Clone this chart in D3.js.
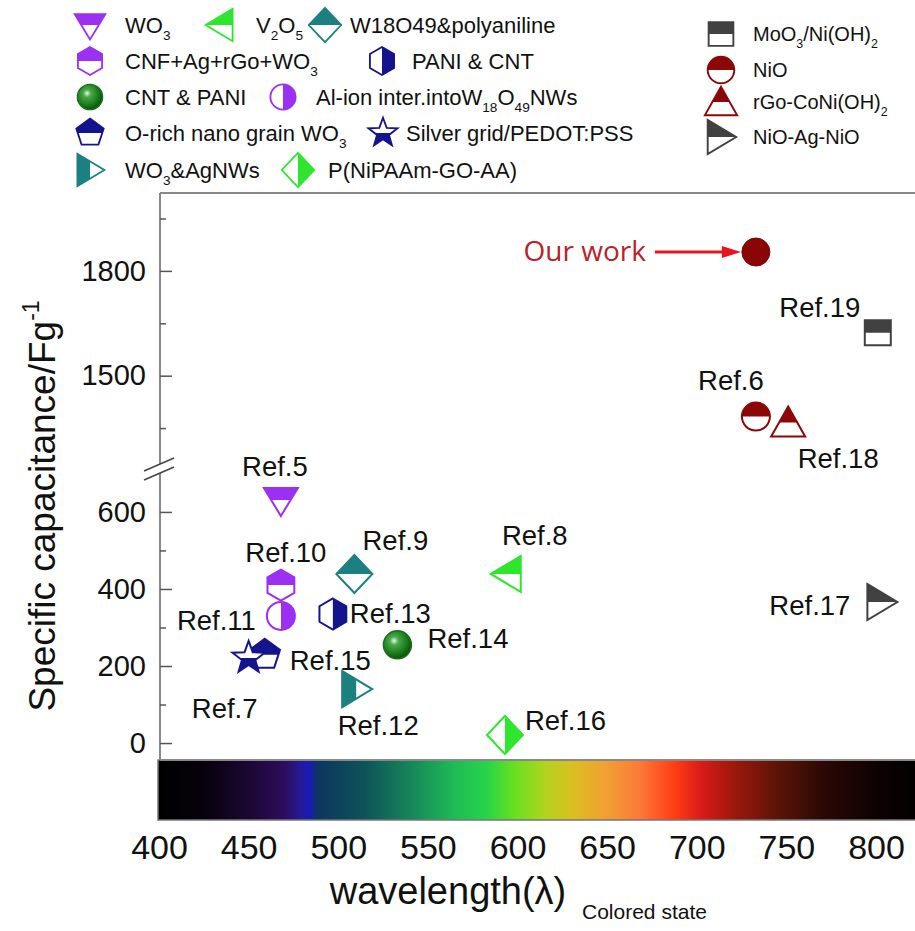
<!DOCTYPE html>
<html><head><meta charset="utf-8">
<script src="https://cdn.jsdelivr.net/npm/d3@7"></script>
<style>body{margin:0;background:#fff} svg text{font-family:"Liberation Sans",Arial,sans-serif;fill:#111}</style>
</head><body><svg id="c" width="915" height="931"></svg>
<script>
// ---------------- data ----------------
const materials = ["WO{3}", "V{2}O{5}", "W18O49&polyaniline", "CNF+Ag+rGo+WO{3}", "PANI & CNT",
  "CNT & PANI", "Al-ion inter.intoW{18}O{49}NWs", "O-rich nano grain WO{3}", "Silver grid/PEDOT:PSS",
  "WO{3}&AgNWs", "P(NiPAAm-GO-AA)", "MoO{3}/Ni(OH){2}", "NiO", "rGo-CoNi(OH){2}", "NiO-Ag-NiO"];
const refLabels = ["Ref.5", "Ref.8", "Ref.9", "Ref.10", "Ref.13", "Ref.14", "Ref.11", "Ref.15", "Ref.7",
  "Ref.12", "Ref.16", "Ref.19", "Ref.6", "Ref.18", "Ref.17"];
const wavelengths = [468, 594, 509, 468, 497, 533, 468, 459, 450, 510, 593, 801, 733, 751, 803];
const capacitances = [631, 439, 439, 410, 335, 255, 330, 229, 221, 140, 21, 1623, 1383, 1366, 366];
const ourWorkLabel = ["Our work"];
const ourWavelength = [733];
const ourCapacitance = [1854];
const xTicks = [400, 450, 500, 550, 600, 650, 700, 750, 800];
const yTicksUpper = [1500, 1800];
const yMinorUpper = [1350, 1650, 1950];
const yTicksLower = [0, 200, 400, 600];
const yMinorLower = [100, 300, 500];
const spectrumStops = [[400,"#000000"],[425,"#06010c"],[450,"#1b0732"],[470,"#2c0c5c"],[479,"#261a98"],[484,"#1a1ab8"],[488,"#0c3560"],[515,"#0e5358"],[540,"#16855a"],[565,"#1fbb55"],[583,"#28d44a"],[598,"#66e020"],[615,"#b0d420"],[630,"#d8c020"],[648,"#f0a232"],[668,"#fb7a38"],[688,"#ff3c14"],[703,"#d81a18"],[720,"#a0180c"],[745,"#5c1408"],[770,"#2c0804"],[800,"#0e0202"],[830,"#000000"]];

// ---------------- styles / layout ----------------
const PURPLE="#9b30f2", GREEN="#2ee62e", TEAL="#1d8080", NAVY="#14148c", DKGREEN="#1b7d1b", DKRED="#8c0808", GRAY="#414141";
const markerStyles = [
  {shape:"triDown", half:"top", color:PURPLE},
  {shape:"triLeft", half:"top", color:GREEN},
  {shape:"diamond", half:"top", color:TEAL},
  {shape:"hexagon", half:"top", color:PURPLE},
  {shape:"hexagon", half:"right", color:NAVY},
  {shape:"sphere", half:"full", color:DKGREEN},
  {shape:"circle", half:"right", color:PURPLE},
  {shape:"pentagon", half:"top", color:NAVY},
  {shape:"star", half:"bottom", color:NAVY},
  {shape:"triRight", half:"left", color:TEAL},
  {shape:"diamond", half:"right", color:GREEN},
  {shape:"square", half:"top", color:GRAY},
  {shape:"circle", half:"top", color:DKRED},
  {shape:"triUp", half:"top", color:DKRED},
  {shape:"triRight", half:"top", color:GRAY}
];
// label placement relative to marker: [dx, dy, anchor]
const labelPlacement = [[-6,-24,"middle"],[28,-29,"middle"],[41,-24,"middle"],[5,-23,"middle"],[17,9,"start"],
  [30,3,"start"],[-25,14,"end"],[25,15,"start"],[-24,60,"middle"],[22,46,"middle"],[20,-5,"start"],
  [-58,-16,"middle"],[-25,-27,"middle"],[50,46,"middle"],[-31,13,"end"]];
// legend layout: [markerX, y, textX, fontSize]
const legendLayout = [[90,25,125,22],[220,25,256,22],[325,25,350,22],[90,61,125,22],[382,61,412,22],
  [90,97,125,22],[283,97,316,22],[90,133,125,22],[383,133,406,22],[90,170,125,22],[298,170,328,22],
  [721,34,753,20],[721,70,753,20],[721,102,753,20],[721,137,753,20]];

const svg = d3.select("#c");
const defs = svg.append("defs");
[["top",-40,-40,80,40],["bottom",-40,0,80,40],["left",-40,-40,40,80],["right",0,-40,40,80]].forEach(([n,x,y,w,h])=>{
  defs.append("clipPath").attr("id","clip-"+n).attr("clipPathUnits","userSpaceOnUse")
    .append("rect").attr("x",x).attr("y",y).attr("width",w).attr("height",h);
});
const sg = defs.append("radialGradient").attr("id","sphere").attr("cx","40%").attr("cy","38%").attr("r","62%").attr("fx","38%").attr("fy","35%");
sg.append("stop").attr("offset","0%").attr("stop-color","#e8f5e8");
sg.append("stop").attr("offset","25%").attr("stop-color","#4aa84a");
sg.append("stop").attr("offset","70%").attr("stop-color","#1b7d1b");
sg.append("stop").attr("offset","100%").attr("stop-color","#0c540c");

// ---------------- scales ----------------
const x = d3.scaleLinear().domain([400, 800]).range([159, 876]);
const yUpper = d3.scaleLinear().domain([1250, 2023]).range([463, 193]);
const yLower = d3.scaleLinear().domain([-44, 727]).range([760, 463]);
const y = v => v >= 1000 ? yUpper(v) : yLower(v);
const plotTop = 193, plotBottom = 760, plotLeft = 160, plotRight = 915;

// ---------------- shapes ----------------
function poly(pts){ return "M" + pts.map(p=>p[0].toFixed(2)+","+p[1].toFixed(2)).join("L") + "Z"; }
function regular(n, r, rot){ const a=[]; for(let i=0;i<n;i++){const t=rot+i*2*Math.PI/n; a.push([r*Math.cos(t), r*Math.sin(t)]);} return a; }
function shapePath(s){
  switch(s){
    case "circle": case "sphere": return "M-14,0A14,14 0 1,0 14,0A14,14 0 1,0 -14,0Z";
    case "square": return poly([[-13,-12.5],[13,-12.5],[13,12.5],[-13,12.5]]);
    case "triDown": return poly([[-17,-12],[17,-12],[0,16]]);
    case "triUp": return poly([[0,-16],[17,14],[-17,14]]);
    case "triLeft": return poly([[-16,0],[14,-18],[14,18]]);
    case "triRight": return poly([[-14,-18],[-14,18],[16,0]]);
    case "diamond": return poly([[0,-19],[18,0],[0,19],[-18,0]]);
    case "hexagon": return poly(regular(6, 15.5, -Math.PI/2));
    case "pentagon": return poly(regular(5, 16, -Math.PI/2));
    case "star": { const a=[]; for(let i=0;i<10;i++){const r=i%2?7:17; const t=-Math.PI/2+i*Math.PI/5; a.push([r*Math.cos(t), r*Math.sin(t)]);} return poly(a); }
  }
}
function drawMarker(g, st){
  const d = shapePath(st.shape);
  if (st.half === "full") {
    g.append("path").attr("d", d).attr("fill", st.shape==="sphere" ? "url(#sphere)" : st.color)
      .attr("stroke", st.shape==="sphere" ? "#1a6e1a" : st.color).attr("stroke-width", 1.5);
    return;
  }
  g.append("path").attr("d", d).attr("fill", "#fff");
  g.append("path").attr("d", d).attr("fill", st.color).attr("clip-path", `url(#clip-${st.half})`);
  g.append("path").attr("d", d).attr("fill", "none").attr("stroke", st.color).attr("stroke-width", 2).attr("stroke-linejoin","miter");
}
function richText(t, str, size){
  const parts = str.split(/(\{[^}]*\})/).filter(s=>s.length);
  let sub = false;
  parts.forEach(p=>{
    if (p[0]==="{") {
      t.append("tspan").attr("font-size", size*0.62).attr("dy", size*0.32).text(p.slice(1,-1));
      sub = true;
    } else {
      t.append("tspan").attr("dy", sub ? -size*0.32 : 0).text(p);
      sub = false;
    }
  });
}

// ---------------- spectrum band ----------------
const lg = defs.append("linearGradient").attr("id","spec").attr("gradientUnits","userSpaceOnUse")
  .attr("x1", x(400)).attr("x2", x(830)).attr("y1",0).attr("y2",0);
spectrumStops.forEach(([nm,c])=> lg.append("stop").attr("offset", (nm-400)/430).attr("stop-color", c));
svg.append("rect").attr("x", x(400)-1).attr("y", 760).attr("width", plotRight - x(400) + 2).attr("height", 60)
  .attr("fill","url(#spec)").attr("stroke","#777").attr("stroke-width",1.5);

// ---------------- frame & axes ----------------
const frame = svg.append("g").attr("stroke","#888").attr("stroke-width",2).attr("fill","none");
frame.append("line").attr("x1",plotLeft).attr("x2",plotRight+5).attr("y1",plotTop).attr("y2",plotTop);
frame.append("line").attr("x1",plotLeft).attr("x2",plotRight+5).attr("y1",plotBottom).attr("y2",plotBottom);

function yAxis(scale, ticks, minor){
  const g = svg.append("g").attr("transform",`translate(${plotLeft},0)`);
  g.call(d3.axisLeft(scale).tickValues(ticks).tickSize(-12).tickPadding(14).tickFormat(d3.format("d")));
  g.call(a=>a.select(".domain").remove());
  g.selectAll(".tick line").attr("stroke","#555").attr("stroke-width",1.5);
  g.selectAll(".tick text").attr("font-size",29).attr("font-family","Liberation Sans, Arial, sans-serif").attr("fill","#111");
  const m = svg.append("g").attr("transform",`translate(${plotLeft},0)`);
  m.call(d3.axisLeft(scale).tickValues(minor).tickSize(-6).tickFormat(""));
  m.select(".domain").remove();
  m.selectAll(".tick line").attr("stroke","#555").attr("stroke-width",1.5);
}
yAxis(yUpper, yTicksUpper, yMinorUpper);
yAxis(yLower, yTicksLower, yMinorLower);
frame.append("line").attr("x1",plotLeft).attr("x2",plotLeft).attr("y1",plotTop).attr("y2",plotBottom);
// axis break
svg.append("path").attr("d","M144,471L174,458L174,467L144,480Z").attr("fill","#fff");
svg.append("g").attr("stroke","#444").attr("stroke-width",1.5)
  .selectAll("line").data([0,9]).join("line")
  .attr("x1",144).attr("y1",d=>471+d).attr("x2",174).attr("y2",d=>458+d);

// x axis labels (below spectrum band)
const xa = svg.append("g").attr("transform","translate(0,820)")
  .call(d3.axisBottom(x).tickValues(xTicks).tickSize(0).tickPadding(15).tickFormat(d3.format("d")));
xa.select(".domain").remove();
xa.selectAll(".tick text").attr("font-size",34).attr("font-family","Liberation Sans, Arial, sans-serif").attr("fill","#111");

// axis titles
const yt = svg.append("text").attr("transform","translate(55,506) rotate(-90)").attr("text-anchor","middle").attr("font-size",37);
yt.append("tspan").text("Specific capacitance/Fg");
yt.append("tspan").attr("font-size",23).attr("dy",-16).text("-1");
svg.append("text").attr("x",448).attr("y",904).attr("text-anchor","middle").attr("font-size",38).text("wavelength(λ)");
svg.append("text").attr("x",582).attr("y",919).attr("font-size",21).text("Colored state");

// ---------------- points ----------------
const pts = svg.append("g");
wavelengths.forEach((w,i)=>{
  const g = pts.append("g").attr("transform",`translate(${x(w)},${y(capacitances[i])})`);
  drawMarker(g, markerStyles[i]);
  const [dx,dy,anchor] = labelPlacement[i];
  g.append("text").attr("x",dx).attr("y",dy).attr("text-anchor",anchor).attr("font-size",27.5).text(refLabels[i]);
});

// our work
ourWavelength.forEach((w,i)=>{
  const cx = x(w), cy = y(ourCapacitance[i]);
  svg.append("circle").attr("cx",cx).attr("cy",cy).attr("r",14).attr("fill","#8a0606").attr("stroke","#7a0000");
  svg.append("line").attr("x1",cx-101).attr("x2",cx-24).attr("y1",cy).attr("y2",cy).attr("stroke","#e8141a").attr("stroke-width",3);
  svg.append("path").attr("d",`M${cx-15},${cy}L${cx-34},${cy-6}L${cx-34},${cy+6}Z`).attr("fill","#e8141a");
  svg.append("text").attr("x",cx-110).attr("y",cy+9).attr("text-anchor","end").attr("font-size",28)
    .style("font-family","'Open Sans', sans-serif").style("fill","#b8232a").text(ourWorkLabel[i]);
});

// ---------------- legend ----------------
materials.forEach((m,i)=>{
  const [mx,my,tx,fs] = legendLayout[i];
  const g = svg.append("g").attr("transform",`translate(${mx},${my}) scale(${i>=11?0.95:0.9})`);
  drawMarker(g, markerStyles[i]);
  const t = svg.append("text").attr("x",tx).attr("y",my+fs*0.36).attr("font-size",fs);
  richText(t, m, fs);
});
</script></body></html>
